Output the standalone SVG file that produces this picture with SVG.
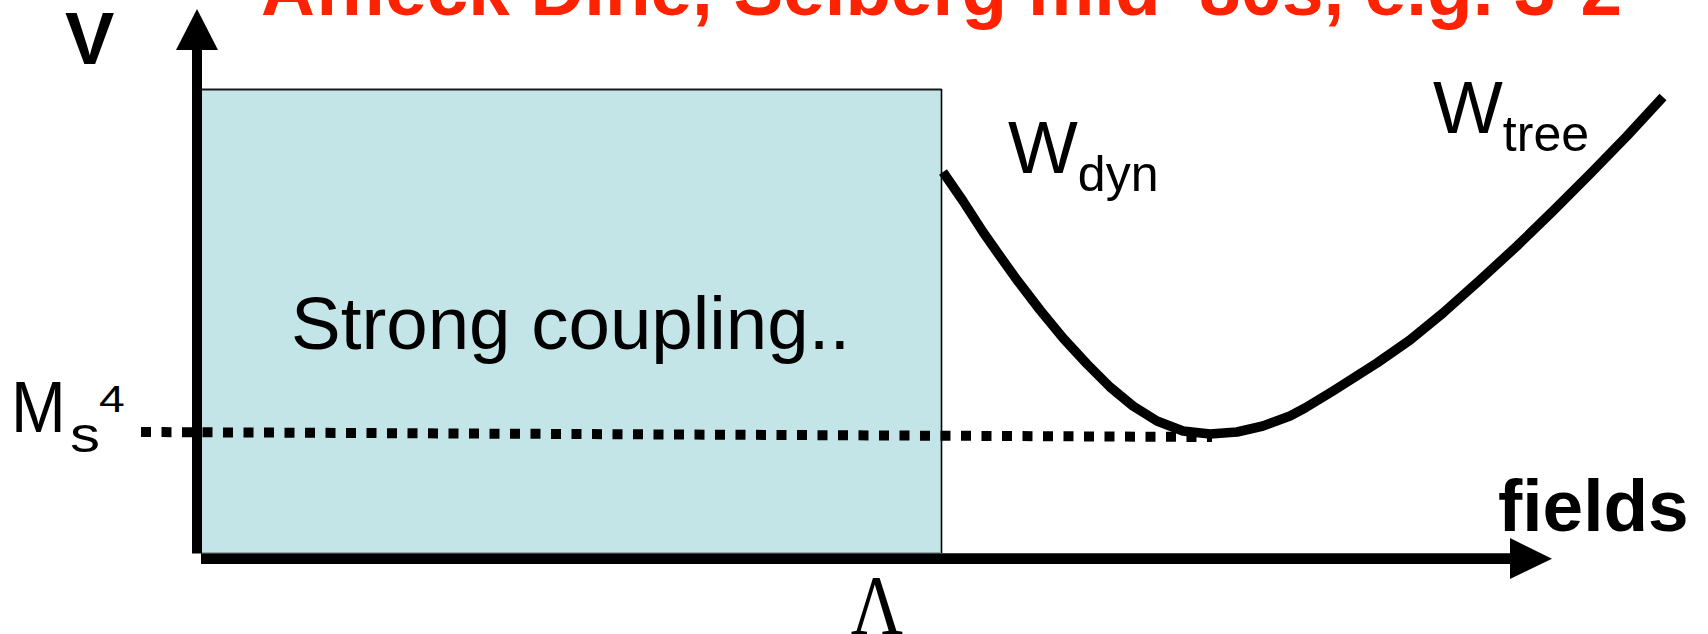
<svg xmlns="http://www.w3.org/2000/svg" width="1708" height="634" viewBox="0 0 1708 634">
  <style>
    .sans { font-family: "Liberation Sans", Arial, sans-serif; fill: #000; }
    .bold { font-weight: bold; }
    .axis { stroke: #000; fill: none; }
    .arrowhead { fill: #000; stroke: none; }
  </style>
  <rect x="0" y="0" width="1708" height="634" fill="#ffffff"/>

  <g id="title">
    <text class="sans bold" x="261" y="15" font-size="74.6" style="fill:#FF2200">Affleck Dine, Seiberg mid '80s, e.g. 3-2</text>
  </g>

  <g id="strong-coupling-region">
    <rect x="197" y="89" width="744" height="464" fill="#C4E5E8" stroke="none"/>
    <line x1="197" y1="89.5" x2="941.5" y2="89.5" stroke="#1a1a1a" stroke-width="2"/>
    <line x1="941.5" y1="89" x2="941.5" y2="553" stroke="#000" stroke-width="1.6"/>
    <line x1="197" y1="552.5" x2="941" y2="552.5" stroke="#8fa9ab" stroke-width="1.2"/>
    <text class="sans" x="291" y="349" font-size="74.5">Strong coupling..</text>
  </g>

  <g id="connectors">
    <!-- vertical V axis -->
    <line class="axis" x1="197" y1="48" x2="197" y2="553.5" stroke-width="10"/>
    <polygon class="arrowhead" points="197,9 176,50 218,50"/>
    <!-- horizontal fields axis -->
    <line class="axis" x1="201" y1="558.7" x2="1512" y2="558.7" stroke-width="10.7"/>
    <polygon class="arrowhead" points="1510,538 1552,558.7 1510,579"/>
    <!-- Ms^4 dotted level -->
    <line x1="141" y1="432" x2="1212" y2="437" stroke="#000" stroke-width="10" stroke-dasharray="10 10.5"/>
    <!-- potential curve -->
    <polyline fill="none" stroke="#000" stroke-width="9.5" stroke-linejoin="round" stroke-linecap="butt"
      points="943,172 963,201 983,232 997,252 1017,280 1040,310 1063,338 1087,364 1110,387 1133,406 1157,421 1183,431 1210,434 1237,432 1263,426 1290,416 1305,408 1333,391 1377,363 1410,340 1443,313 1480,280 1517,246 1553,211 1590,174 1627,136 1663,97"/>
  </g>

  <g id="label-V">
    <text class="sans bold" x="65" y="64" font-size="74">V</text>
  </g>

  <g id="label-Ms4">
    <text class="sans" font-size="73" transform="translate(11,432) scale(0.9,1)">M</text>
    <text class="sans" font-size="50" transform="translate(70,451.5) scale(1.2,1)">s</text>
    <text class="sans" font-size="37" transform="translate(99,411.7) scale(1.25,1)">4</text>
  </g>

  <g id="label-Wdyn">
    <text class="sans" x="1008" y="173" font-size="74">W<tspan dy="18" font-size="50">dyn</tspan></text>
  </g>

  <g id="label-Wtree">
    <text class="sans" x="1433" y="133" font-size="74">W<tspan dy="18" font-size="50">tree</tspan></text>
  </g>

  <g id="label-fields">
    <text class="sans bold" x="1498" y="531" font-size="73">fields</text>
  </g>

  <g id="label-Lambda">
    <text font-size="84" text-anchor="middle" transform="translate(877,634) scale(0.86,1)" style="font-family:'Liberation Serif','Times New Roman',serif;fill:#000">Λ</text>
  </g>
</svg>
